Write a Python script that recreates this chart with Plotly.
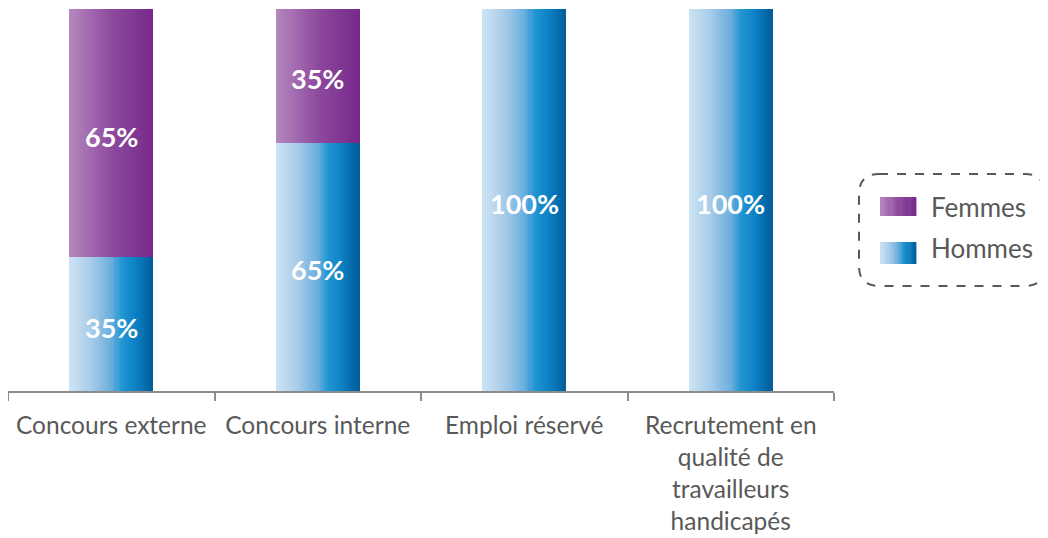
import plotly.graph_objects as go

categories = ["Concours externe", "Concours interne", "Emploi réservé",
              "Recrutement en<br>qualité de<br>travailleurs<br>handicapés"]
hommes = [35, 65, 100, 100]
femmes = [65, 35, 0, 0]
series_names = ["Femmes", "Hommes"]

# page body has an 8px margin -> figure is drawn 8px in from the window edges
OFF = 8
W, H = 1048 - OFF, 538 - OFF
PL, PR, PT, PB = 7, 834, 9, 391          # plot area in window pixels
ML = max(PL - OFF, 0)
MT = PT - OFF
MR = W - (PR - OFF)
MB = H - (PB - OFF)
PW, PH = W - ML - MR, H - MT - MB

hommes_stops = [(0.0, "#cde3f4"), (0.25, "#aacde9"), (0.5, "#6aaedd"),
                (0.62, "#2397d3"), (0.8, "#0a7fc2"), (1.0, "#005b98")]
femmes_stops = [(0.0, "#b488be"), (0.5, "#8e4a9e"), (1.0, "#76288a")]


def hex2rgb(h):
    h = h.lstrip("#")
    return tuple(int(h[i:i + 2], 16) for i in (0, 2, 4))


def interp(stops, t):
    for (t0, c0), (t1, c1) in zip(stops[:-1], stops[1:]):
        if t0 <= t <= t1:
            f = (t - t0) / (t1 - t0) if t1 > t0 else 0
            a, b = hex2rgb(c0), hex2rgb(c1)
            r = [round(a[i] + (b[i] - a[i]) * f) for i in range(3)]
            return "rgb(%d,%d,%d)" % tuple(r)
    return stops[-1][1]


fig = go.Figure()
BW = 0.406
N = 40
sw = BW / N
for k in range(N):
    t = (k + 0.5) / N
    fig.add_trace(go.Bar(x=categories, y=hommes, width=sw * 1.05,
                         offset=-BW / 2 + k * sw,
                         marker=dict(color=interp(hommes_stops, t), line=dict(width=0)),
                         showlegend=False, hoverinfo="skip"))
    fig.add_trace(go.Bar(x=categories, y=femmes, base=hommes, width=sw * 1.05,
                         offset=-BW / 2 + k * sw,
                         marker=dict(color=interp(femmes_stops, t), line=dict(width=0)),
                         showlegend=False, hoverinfo="skip"))

annotations = []
# value labels
for c, h, f in zip(categories, hommes, femmes):
    segs = []
    if h > 0:
        segs.append((h / 2, h))
    if f > 0:
        segs.append((h + f / 2, f))
    for yv, v in segs:
        annotations.append(dict(x=c, y=yv, xref="x", yref="y", text="%d%%" % v,
                                showarrow=False, yshift=-3,
                                font=dict(family="Lato", size=27, color="white",
                                          weight="bold")))


def px2x(px):
    return (px - OFF - ML) / PW


def px2y(py):
    return (H - MB - (py - OFF)) / PH


shapes = []
# legend box (rounded, dashed)
x0, x1, y0, y1, r = 859, 1045, 174, 286, 20
path = ("M {a},{b} L {c},{b} Q {d},{b} {d},{e} L {d},{f} Q {d},{g} {c},{g} "
        "L {a},{g} Q {h},{g} {h},{f} L {h},{e} Q {h},{b} {a},{b} Z").format(
    a=px2x(x0 + r), b=px2y(y0), c=px2x(x1 - r), d=px2x(x1), e=px2y(y0 + r),
    f=px2y(y1 - r), g=px2y(y1), h=px2x(x0))
shapes.append(dict(type="path", path=path, xref="paper", yref="paper",
                   line=dict(color="#595959", width=2, dash="dash")))

for name, stops, ys, ty in [("Femmes", femmes_stops, (197, 216), 207),
                            ("Hommes", hommes_stops, (242, 264), 248)]:
    sx0, sx1 = 880, 916
    M = 16
    for k in range(M):
        t = (k + 0.5) / M
        a = sx0 + (sx1 - sx0) * k / M
        b = sx0 + (sx1 - sx0) * (k + 1) / M + 0.4
        shapes.append(dict(type="rect", xref="paper", yref="paper",
                           x0=px2x(a), x1=px2x(b), y0=px2y(ys[1]), y1=px2y(ys[0]),
                           fillcolor=interp(stops, t), line=dict(width=0), layer="above"))
    annotations.append(dict(text=name, xref="paper", yref="paper",
                            x=px2x(929), y=px2y(ty),
                            xanchor="left", yanchor="middle", showarrow=False,
                            font=dict(family="Lato", size=26, color="#595959")))

fig.update_layout(
    width=W, height=H,
    margin=dict(l=ML, r=MR, t=MT, b=MB),
    barmode="overlay", bargap=0,
    plot_bgcolor="white", paper_bgcolor="white",
    showlegend=False,
    shapes=shapes, annotations=annotations,
    xaxis=dict(type="category", tickson="boundaries", ticks="outside", ticklen=8,
               tickwidth=1.5, tickcolor="#8c8c8c", showline=True, linecolor="#8c8c8c",
               linewidth=1.5, showgrid=False, range=[-0.5, 3.5],
               ticklabelstandoff=12,
               tickfont=dict(family="Lato", size=24.5, color="#595959")),
    yaxis=dict(range=[0, 100], visible=False, showgrid=False, zeroline=False),
)

fig.write_html("out.html")
